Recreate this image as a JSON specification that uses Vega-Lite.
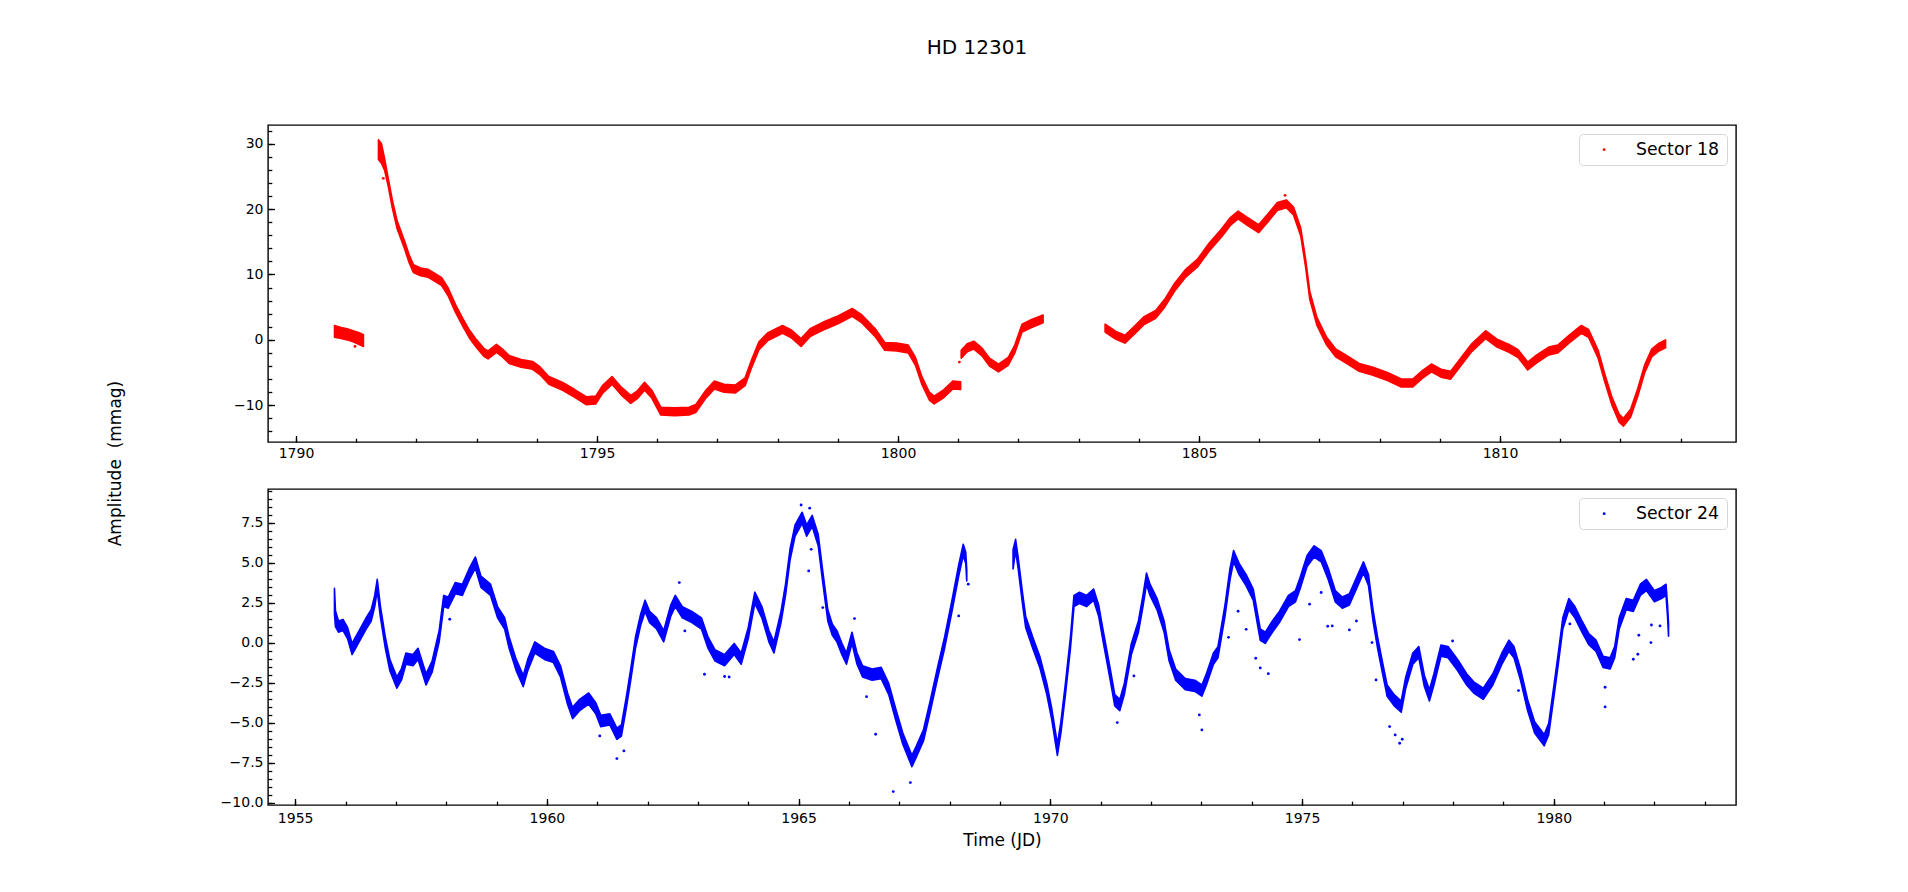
{
  "$schema": "https://vega.github.io/schema/vega-lite/v6.json",
  "autosize": {"type": "none"},
  "padding": {"left": 268, "top": 125, "right": 1640, "bottom": 767},
  "background": "#ffffff",
  "spacing": 47,
  "bounds": "flush",
  "datasets": {
    "s18band": [
      {"s":1,"t":1790.64,"lo":0.4,"hi":2.2},{"s":1,"t":1790.75,"lo":0.2,"hi":1.9},{"s":1,"t":1790.85,"lo":0.0,"hi":1.7},{"s":1,"t":1790.95,"lo":-0.3,"hi":1.4},{"s":1,"t":1791.05,"lo":-0.7,"hi":1.1},{"s":1,"t":1791.12,"lo":-1.0,"hi":0.8},
      {"s":2,"t":1791.37,"lo":27.6,"hi":30.6},{"s":2,"t":1791.42,"lo":27.0,"hi":30.0},{"s":2,"t":1791.47,"lo":26.0,"hi":27.8},{"s":2,"t":1791.53,"lo":23.6,"hi":24.8},{"s":2,"t":1791.60,"lo":20.2,"hi":21.4},{"s":2,"t":1791.68,"lo":17.0,"hi":18.2},{"s":2,"t":1791.80,"lo":14.0,"hi":15.2},{"s":2,"t":1791.88,"lo":11.8,"hi":13.0},{"s":2,"t":1791.95,"lo":10.3,"hi":11.5},{"s":2,"t":1792.07,"lo":9.8,"hi":11.0},{"s":2,"t":1792.19,"lo":9.6,"hi":10.8},{"s":2,"t":1792.30,"lo":9.0,"hi":10.2},{"s":2,"t":1792.42,"lo":8.3,"hi":9.5},{"s":2,"t":1792.53,"lo":6.7,"hi":7.9},{"s":2,"t":1792.65,"lo":4.2,"hi":5.4},{"s":2,"t":1792.77,"lo":2.1,"hi":3.3},{"s":2,"t":1792.88,"lo":0.3,"hi":1.5},{"s":2,"t":1793.00,"lo":-1.2,"hi":0.0},{"s":2,"t":1793.12,"lo":-2.5,"hi":-1.3},{"s":2,"t":1793.19,"lo":-2.9,"hi":-1.7},{"s":2,"t":1793.33,"lo":-1.9,"hi":-0.7},{"s":2,"t":1793.43,"lo":-2.6,"hi":-1.4},{"s":2,"t":1793.54,"lo":-3.6,"hi":-2.4},{"s":2,"t":1793.74,"lo":-4.2,"hi":-3.0},{"s":2,"t":1793.93,"lo":-4.5,"hi":-3.3},{"s":2,"t":1794.05,"lo":-5.3,"hi":-4.1},{"s":2,"t":1794.20,"lo":-6.8,"hi":-5.6},{"s":2,"t":1794.43,"lo":-7.7,"hi":-6.5},{"s":2,"t":1794.63,"lo":-8.8,"hi":-7.6},{"s":2,"t":1794.82,"lo":-9.9,"hi":-8.7},{"s":2,"t":1794.98,"lo":-9.8,"hi":-8.6},{"s":2,"t":1795.09,"lo":-8.2,"hi":-7.0},{"s":2,"t":1795.25,"lo":-6.8,"hi":-5.6},{"s":2,"t":1795.40,"lo":-8.4,"hi":-7.2},{"s":2,"t":1795.56,"lo":-9.7,"hi":-8.5},{"s":2,"t":1795.67,"lo":-9.0,"hi":-7.8},{"s":2,"t":1795.79,"lo":-7.7,"hi":-6.5},{"s":2,"t":1795.91,"lo":-8.9,"hi":-7.7},{"s":2,"t":1796.06,"lo":-11.5,"hi":-10.3},{"s":2,"t":1796.29,"lo":-11.6,"hi":-10.4},{"s":2,"t":1796.53,"lo":-11.5,"hi":-10.3},{"s":2,"t":1796.64,"lo":-11.1,"hi":-9.9},{"s":2,"t":1796.80,"lo":-9.0,"hi":-7.8},{"s":2,"t":1796.95,"lo":-7.5,"hi":-6.3},{"s":2,"t":1797.11,"lo":-8.0,"hi":-6.8},{"s":2,"t":1797.30,"lo":-8.1,"hi":-6.9},{"s":2,"t":1797.46,"lo":-7.0,"hi":-5.8},{"s":2,"t":1797.57,"lo":-4.2,"hi":-3.0},{"s":2,"t":1797.69,"lo":-1.5,"hi":-0.3},{"s":2,"t":1797.84,"lo":-0.1,"hi":1.1},{"s":2,"t":1798.08,"lo":1.0,"hi":2.2},{"s":2,"t":1798.23,"lo":0.3,"hi":1.5},{"s":2,"t":1798.39,"lo":-1.0,"hi":0.2},{"s":2,"t":1798.54,"lo":0.5,"hi":1.7},{"s":2,"t":1798.78,"lo":1.6,"hi":2.8},{"s":2,"t":1799.01,"lo":2.5,"hi":3.7},{"s":2,"t":1799.24,"lo":3.6,"hi":4.8},{"s":2,"t":1799.40,"lo":2.6,"hi":3.8},{"s":2,"t":1799.63,"lo":0.4,"hi":1.6},{"s":2,"t":1799.78,"lo":-1.6,"hi":-0.4},{"s":2,"t":1799.98,"lo":-1.7,"hi":-0.5},{"s":2,"t":1800.17,"lo":-2.0,"hi":-0.8},{"s":2,"t":1800.29,"lo":-3.9,"hi":-2.7},{"s":2,"t":1800.40,"lo":-6.9,"hi":-5.7},{"s":2,"t":1800.52,"lo":-9.2,"hi":-8.0},{"s":2,"t":1800.60,"lo":-9.8,"hi":-8.6},{"s":2,"t":1800.75,"lo":-8.9,"hi":-7.7},{"s":2,"t":1800.91,"lo":-7.5,"hi":-6.3},{"s":2,"t":1801.04,"lo":-7.6,"hi":-6.4},
      {"s":3,"t":1801.05,"lo":-2.8,"hi":-1.6},{"s":3,"t":1801.15,"lo":-1.8,"hi":-0.6},{"s":3,"t":1801.26,"lo":-1.4,"hi":-0.2},{"s":3,"t":1801.40,"lo":-2.5,"hi":-1.3},{"s":3,"t":1801.52,"lo":-4.0,"hi":-2.8},{"s":3,"t":1801.67,"lo":-4.9,"hi":-3.7},{"s":3,"t":1801.83,"lo":-3.9,"hi":-2.7},{"s":3,"t":1801.94,"lo":-2.0,"hi":-0.8},{"s":3,"t":1802.06,"lo":1.2,"hi":2.4},{"s":3,"t":1802.22,"lo":1.9,"hi":3.1},{"s":3,"t":1802.41,"lo":2.6,"hi":3.8},
      {"s":4,"t":1803.44,"lo":1.2,"hi":2.4},{"s":4,"t":1803.62,"lo":0.1,"hi":1.3},{"s":4,"t":1803.77,"lo":-0.5,"hi":0.7},{"s":4,"t":1803.93,"lo":0.9,"hi":2.1},{"s":4,"t":1804.08,"lo":2.3,"hi":3.5},{"s":4,"t":1804.28,"lo":3.3,"hi":4.5},{"s":4,"t":1804.43,"lo":5.0,"hi":6.2},{"s":4,"t":1804.59,"lo":7.4,"hi":8.6},{"s":4,"t":1804.78,"lo":9.6,"hi":10.8},{"s":4,"t":1804.98,"lo":11.2,"hi":12.4},{"s":4,"t":1805.17,"lo":13.6,"hi":14.8},{"s":4,"t":1805.37,"lo":15.7,"hi":16.9},{"s":4,"t":1805.52,"lo":17.5,"hi":18.7},{"s":4,"t":1805.65,"lo":18.5,"hi":19.7},{"s":4,"t":1805.79,"lo":17.6,"hi":18.8},{"s":4,"t":1805.99,"lo":16.4,"hi":17.6},{"s":4,"t":1806.14,"lo":18.0,"hi":19.2},{"s":4,"t":1806.30,"lo":19.8,"hi":21.0},{"s":4,"t":1806.45,"lo":20.2,"hi":21.4},{"s":4,"t":1806.57,"lo":19.1,"hi":20.3},{"s":4,"t":1806.69,"lo":15.9,"hi":17.1},{"s":4,"t":1806.77,"lo":11.2,"hi":12.4},{"s":4,"t":1806.84,"lo":6.2,"hi":7.4},{"s":4,"t":1806.96,"lo":2.2,"hi":3.4},{"s":4,"t":1807.12,"lo":-0.8,"hi":0.4},{"s":4,"t":1807.27,"lo":-2.6,"hi":-1.4},{"s":4,"t":1807.47,"lo":-3.7,"hi":-2.5},{"s":4,"t":1807.66,"lo":-4.8,"hi":-3.6},{"s":4,"t":1807.89,"lo":-5.4,"hi":-4.2},{"s":4,"t":1808.13,"lo":-6.2,"hi":-5.0},{"s":4,"t":1808.36,"lo":-7.2,"hi":-6.0},{"s":4,"t":1808.55,"lo":-7.2,"hi":-6.0},{"s":4,"t":1808.71,"lo":-5.9,"hi":-4.7},{"s":4,"t":1808.86,"lo":-4.9,"hi":-3.7},{"s":4,"t":1809.02,"lo":-5.7,"hi":-4.5},{"s":4,"t":1809.18,"lo":-6.0,"hi":-4.8},{"s":4,"t":1809.33,"lo":-4.2,"hi":-3.0},{"s":4,"t":1809.53,"lo":-1.8,"hi":-0.6},{"s":4,"t":1809.76,"lo":0.2,"hi":1.4},{"s":4,"t":1809.95,"lo":-1.1,"hi":0.1},{"s":4,"t":1810.15,"lo":-1.9,"hi":-0.7},{"s":4,"t":1810.30,"lo":-2.7,"hi":-1.5},{"s":4,"t":1810.46,"lo":-4.6,"hi":-3.4},{"s":4,"t":1810.61,"lo":-3.5,"hi":-2.3},{"s":4,"t":1810.81,"lo":-2.3,"hi":-1.1},{"s":4,"t":1810.96,"lo":-2.0,"hi":-0.8},{"s":4,"t":1811.16,"lo":-0.4,"hi":0.8},{"s":4,"t":1811.35,"lo":1.0,"hi":2.2},{"s":4,"t":1811.47,"lo":0.4,"hi":1.6},{"s":4,"t":1811.63,"lo":-2.8,"hi":-1.6},{"s":4,"t":1811.74,"lo":-6.4,"hi":-5.2},{"s":4,"t":1811.86,"lo":-10.0,"hi":-8.8},{"s":4,"t":1811.98,"lo":-12.6,"hi":-11.4},{"s":4,"t":1812.05,"lo":-13.2,"hi":-12.0},{"s":4,"t":1812.17,"lo":-11.8,"hi":-10.6},{"s":4,"t":1812.29,"lo":-8.6,"hi":-7.4},{"s":4,"t":1812.40,"lo":-5.1,"hi":-3.9},{"s":4,"t":1812.52,"lo":-2.6,"hi":-1.4},{"s":4,"t":1812.64,"lo":-1.7,"hi":-0.5},{"s":4,"t":1812.75,"lo":-1.2,"hi":0.0}
    ],
    "s18pts": [
      {"sector":"Sector 18","t":1791.45,"m":24.7},{"sector":"Sector 18","t":1791.40,"m":28.2},{"sector":"Sector 18","t":1801.02,"m":-3.4},{"sector":"Sector 18","t":1806.43,"m":22.1},{"sector":"Sector 18","t":1790.98,"m":-1.0}
    ],
    "s24band": [
      {"s":1,"t":1955.78,"lo":1.8,"hi":3.4},{"s":1,"t":1955.80,"lo":1.0,"hi":2.0},{"s":1,"t":1955.86,"lo":0.65,"hi":1.35},{"s":1,"t":1955.95,"lo":0.75,"hi":1.45},{"s":1,"t":1956.04,"lo":0.25,"hi":0.95},{"s":1,"t":1956.13,"lo":-0.75,"hi":-0.05},{"s":1,"t":1956.27,"lo":0.05,"hi":0.75},{"s":1,"t":1956.41,"lo":0.85,"hi":1.55},{"s":1,"t":1956.51,"lo":1.35,"hi":2.05},{"s":1,"t":1956.58,"lo":2.25,"hi":2.95},{"s":1,"t":1956.63,"lo":3.25,"hi":3.95},{"s":1,"t":1956.69,"lo":1.65,"hi":2.35},{"s":1,"t":1956.79,"lo":-0.35,"hi":0.35},{"s":1,"t":1956.88,"lo":-1.75,"hi":-1.05},{"s":1,"t":1957.02,"lo":-2.85,"hi":-2.15},{"s":1,"t":1957.11,"lo":-2.35,"hi":-1.65},{"s":1,"t":1957.20,"lo":-1.35,"hi":-0.65},{"s":1,"t":1957.34,"lo":-1.45,"hi":-0.75},{"s":1,"t":1957.44,"lo":-1.05,"hi":-0.35},{"s":1,"t":1957.60,"lo":-2.65,"hi":-1.95},{"s":1,"t":1957.72,"lo":-1.85,"hi":-1.15},{"s":1,"t":1957.86,"lo":0.05,"hi":0.75},{"s":1,"t":1957.95,"lo":2.25,"hi":2.95},{"s":1,"t":1958.04,"lo":2.15,"hi":2.85},{"s":1,"t":1958.18,"lo":3.05,"hi":3.75},{"s":1,"t":1958.32,"lo":2.95,"hi":3.65},{"s":1,"t":1958.46,"lo":3.95,"hi":4.65},{"s":1,"t":1958.58,"lo":4.65,"hi":5.35},{"s":1,"t":1958.69,"lo":3.45,"hi":4.15},{"s":1,"t":1958.88,"lo":2.95,"hi":3.65},{"s":1,"t":1959.02,"lo":1.55,"hi":2.25},{"s":1,"t":1959.16,"lo":0.85,"hi":1.55},{"s":1,"t":1959.25,"lo":-0.35,"hi":0.35},{"s":1,"t":1959.39,"lo":-1.75,"hi":-1.05},{"s":1,"t":1959.53,"lo":-2.75,"hi":-2.05},{"s":1,"t":1959.62,"lo":-1.75,"hi":-1.05},{"s":1,"t":1959.76,"lo":-0.65,"hi":0.05},{"s":1,"t":1959.95,"lo":-1.05,"hi":-0.35},{"s":1,"t":1960.13,"lo":-1.25,"hi":-0.55},{"s":1,"t":1960.27,"lo":-2.15,"hi":-1.45},{"s":1,"t":1960.41,"lo":-3.85,"hi":-3.15},{"s":1,"t":1960.51,"lo":-4.75,"hi":-4.05},{"s":1,"t":1960.65,"lo":-4.25,"hi":-3.55},{"s":1,"t":1960.83,"lo":-3.85,"hi":-3.15},{"s":1,"t":1960.97,"lo":-4.45,"hi":-3.75},{"s":1,"t":1961.07,"lo":-5.25,"hi":-4.55},{"s":1,"t":1961.25,"lo":-5.15,"hi":-4.45},{"s":1,"t":1961.39,"lo":-6.05,"hi":-5.35},{"s":1,"t":1961.48,"lo":-5.85,"hi":-5.15},{"s":1,"t":1961.58,"lo":-4.05,"hi":-3.35},{"s":1,"t":1961.67,"lo":-2.25,"hi":-1.55},{"s":1,"t":1961.76,"lo":-0.35,"hi":0.35},{"s":1,"t":1961.86,"lo":1.05,"hi":1.75},{"s":1,"t":1961.95,"lo":1.95,"hi":2.65},{"s":1,"t":1962.04,"lo":1.25,"hi":1.95},{"s":1,"t":1962.18,"lo":0.85,"hi":1.55},{"s":1,"t":1962.32,"lo":0.05,"hi":0.75},{"s":1,"t":1962.46,"lo":1.65,"hi":2.35},{"s":1,"t":1962.55,"lo":2.25,"hi":2.95},{"s":1,"t":1962.69,"lo":1.55,"hi":2.25},{"s":1,"t":1962.88,"lo":1.25,"hi":1.95},{"s":1,"t":1963.07,"lo":0.85,"hi":1.55},{"s":1,"t":1963.20,"lo":-0.35,"hi":0.35},{"s":1,"t":1963.34,"lo":-1.15,"hi":-0.45},{"s":1,"t":1963.53,"lo":-1.45,"hi":-0.75},{"s":1,"t":1963.72,"lo":-0.75,"hi":-0.05},{"s":1,"t":1963.86,"lo":-1.35,"hi":-0.65},{"s":1,"t":1964.00,"lo":0.25,"hi":0.95},{"s":1,"t":1964.13,"lo":2.45,"hi":3.15},{"s":1,"t":1964.27,"lo":1.55,"hi":2.25},{"s":1,"t":1964.41,"lo":0.05,"hi":0.75},{"s":1,"t":1964.51,"lo":-0.65,"hi":0.05},{"s":1,"t":1964.65,"lo":1.25,"hi":1.95},{"s":1,"t":1964.74,"lo":2.95,"hi":3.65},{"s":1,"t":1964.83,"lo":5.15,"hi":5.85},{"s":1,"t":1964.93,"lo":6.65,"hi":7.35},{"s":1,"t":1965.07,"lo":7.45,"hi":8.15},{"s":1,"t":1965.16,"lo":6.65,"hi":7.35},{"s":1,"t":1965.27,"lo":7.25,"hi":7.95},{"s":1,"t":1965.39,"lo":6.05,"hi":6.75},{"s":1,"t":1965.48,"lo":3.75,"hi":4.45},{"s":1,"t":1965.58,"lo":1.35,"hi":2.05},{"s":1,"t":1965.67,"lo":0.45,"hi":1.15},{"s":1,"t":1965.76,"lo":0.05,"hi":0.75},{"s":1,"t":1965.86,"lo":-0.75,"hi":-0.05},{"s":1,"t":1965.95,"lo":-1.35,"hi":-0.65},{"s":1,"t":1966.06,"lo":-0.05,"hi":0.65},{"s":1,"t":1966.16,"lo":-1.35,"hi":-0.65},{"s":1,"t":1966.27,"lo":-2.15,"hi":-1.45},{"s":1,"t":1966.46,"lo":-2.35,"hi":-1.65},{"s":1,"t":1966.64,"lo":-2.25,"hi":-1.55},{"s":1,"t":1966.79,"lo":-3.25,"hi":-2.55},{"s":1,"t":1966.93,"lo":-4.85,"hi":-4.15},{"s":1,"t":1967.07,"lo":-6.35,"hi":-5.65},{"s":1,"t":1967.25,"lo":-7.75,"hi":-7.05},{"s":1,"t":1967.34,"lo":-7.15,"hi":-6.45},{"s":1,"t":1967.48,"lo":-6.15,"hi":-5.45},{"s":1,"t":1967.62,"lo":-4.25,"hi":-3.55},{"s":1,"t":1967.76,"lo":-2.25,"hi":-1.55},{"s":1,"t":1967.90,"lo":-0.35,"hi":0.35},{"s":1,"t":1968.04,"lo":1.85,"hi":2.55},{"s":1,"t":1968.18,"lo":4.15,"hi":4.85},{"s":1,"t":1968.27,"lo":5.45,"hi":6.15},{"s":1,"t":1968.32,"lo":4.95,"hi":5.65},{"s":1,"t":1968.34,"lo":3.85,"hi":4.55},
      {"s":2,"t":1969.26,"lo":4.6,"hi":5.8},{"s":2,"t":1969.31,"lo":5.75,"hi":6.45},{"s":2,"t":1969.36,"lo":4.65,"hi":5.35},{"s":2,"t":1969.45,"lo":2.35,"hi":3.05},{"s":2,"t":1969.51,"lo":0.95,"hi":1.65},{"s":2,"t":1969.65,"lo":-0.35,"hi":0.35},{"s":2,"t":1969.79,"lo":-1.55,"hi":-0.85},{"s":2,"t":1969.93,"lo":-3.25,"hi":-2.55},{"s":2,"t":1970.03,"lo":-4.85,"hi":-4.15},{"s":2,"t":1970.14,"lo":-7.05,"hi":-6.35},{"s":2,"t":1970.21,"lo":-5.65,"hi":-4.95},{"s":2,"t":1970.30,"lo":-3.25,"hi":-2.55},{"s":2,"t":1970.40,"lo":-0.35,"hi":0.35},{"s":2,"t":1970.47,"lo":2.25,"hi":2.95},{"s":2,"t":1970.58,"lo":2.45,"hi":3.15},{"s":2,"t":1970.72,"lo":2.25,"hi":2.95},{"s":2,"t":1970.86,"lo":2.65,"hi":3.35},{"s":2,"t":1970.96,"lo":1.65,"hi":2.35},{"s":2,"t":1971.05,"lo":0.05,"hi":0.75},{"s":2,"t":1971.19,"lo":-2.35,"hi":-1.65},{"s":2,"t":1971.28,"lo":-3.95,"hi":-3.25},{"s":2,"t":1971.38,"lo":-4.25,"hi":-3.55},{"s":2,"t":1971.47,"lo":-3.25,"hi":-2.55},{"s":2,"t":1971.61,"lo":-0.75,"hi":-0.05},{"s":2,"t":1971.75,"lo":0.65,"hi":1.35},{"s":2,"t":1971.84,"lo":2.25,"hi":2.95},{"s":2,"t":1971.91,"lo":3.65,"hi":4.35},{"s":2,"t":1971.98,"lo":2.95,"hi":3.65},{"s":2,"t":1972.12,"lo":2.05,"hi":2.75},{"s":2,"t":1972.26,"lo":0.65,"hi":1.35},{"s":2,"t":1972.36,"lo":-1.15,"hi":-0.45},{"s":2,"t":1972.49,"lo":-2.35,"hi":-1.65},{"s":2,"t":1972.68,"lo":-2.95,"hi":-2.25},{"s":2,"t":1972.87,"lo":-3.05,"hi":-2.35},{"s":2,"t":1973.01,"lo":-3.35,"hi":-2.65},{"s":2,"t":1973.10,"lo":-2.65,"hi":-1.95},{"s":2,"t":1973.24,"lo":-1.35,"hi":-0.65},{"s":2,"t":1973.33,"lo":-0.95,"hi":-0.25},{"s":2,"t":1973.47,"lo":1.65,"hi":2.35},{"s":2,"t":1973.57,"lo":3.95,"hi":4.65},{"s":2,"t":1973.64,"lo":5.05,"hi":5.75},{"s":2,"t":1973.75,"lo":4.25,"hi":4.95},{"s":2,"t":1973.89,"lo":3.55,"hi":4.25},{"s":2,"t":1974.03,"lo":2.65,"hi":3.35},{"s":2,"t":1974.17,"lo":0.15,"hi":0.85},{"s":2,"t":1974.27,"lo":-0.05,"hi":0.65},{"s":2,"t":1974.41,"lo":0.65,"hi":1.35},{"s":2,"t":1974.55,"lo":1.25,"hi":1.95},{"s":2,"t":1974.73,"lo":2.25,"hi":2.95},{"s":2,"t":1974.87,"lo":2.55,"hi":3.25},{"s":2,"t":1974.96,"lo":3.35,"hi":4.05},{"s":2,"t":1975.10,"lo":4.75,"hi":5.45},{"s":2,"t":1975.24,"lo":5.35,"hi":6.05},{"s":2,"t":1975.38,"lo":5.05,"hi":5.75},{"s":2,"t":1975.52,"lo":3.95,"hi":4.65},{"s":2,"t":1975.66,"lo":2.55,"hi":3.25},{"s":2,"t":1975.80,"lo":2.15,"hi":2.85},{"s":2,"t":1975.94,"lo":2.35,"hi":3.05},{"s":2,"t":1976.08,"lo":3.35,"hi":4.05},{"s":2,"t":1976.22,"lo":4.35,"hi":5.05},{"s":2,"t":1976.32,"lo":3.55,"hi":4.25},{"s":2,"t":1976.41,"lo":1.35,"hi":2.05},{"s":2,"t":1976.50,"lo":-0.35,"hi":0.35},{"s":2,"t":1976.60,"lo":-1.95,"hi":-1.25},{"s":2,"t":1976.69,"lo":-3.35,"hi":-2.65},{"s":2,"t":1976.83,"lo":-3.95,"hi":-3.25},{"s":2,"t":1976.97,"lo":-4.35,"hi":-3.65},{"s":2,"t":1977.06,"lo":-2.85,"hi":-2.15},{"s":2,"t":1977.20,"lo":-1.35,"hi":-0.65},{"s":2,"t":1977.32,"lo":-0.95,"hi":-0.25},{"s":2,"t":1977.43,"lo":-2.75,"hi":-2.05},{"s":2,"t":1977.53,"lo":-3.65,"hi":-2.95},{"s":2,"t":1977.62,"lo":-2.65,"hi":-1.95},{"s":2,"t":1977.76,"lo":-0.85,"hi":-0.15},{"s":2,"t":1977.90,"lo":-0.95,"hi":-0.25},{"s":2,"t":1978.09,"lo":-1.75,"hi":-1.05},{"s":2,"t":1978.27,"lo":-2.65,"hi":-1.95},{"s":2,"t":1978.41,"lo":-3.15,"hi":-2.45},{"s":2,"t":1978.60,"lo":-3.55,"hi":-2.85},{"s":2,"t":1978.79,"lo":-2.65,"hi":-1.95},{"s":2,"t":1978.97,"lo":-1.35,"hi":-0.65},{"s":2,"t":1979.11,"lo":-0.55,"hi":0.15},{"s":2,"t":1979.21,"lo":-0.95,"hi":-0.25},{"s":2,"t":1979.34,"lo":-2.35,"hi":-1.65},{"s":2,"t":1979.48,"lo":-4.25,"hi":-3.55},{"s":2,"t":1979.62,"lo":-5.65,"hi":-4.95},{"s":2,"t":1979.81,"lo":-6.45,"hi":-5.75},{"s":2,"t":1979.90,"lo":-5.75,"hi":-5.05},{"s":2,"t":1980.00,"lo":-3.45,"hi":-2.75},{"s":2,"t":1980.09,"lo":-1.35,"hi":-0.65},{"s":2,"t":1980.18,"lo":0.85,"hi":1.55},{"s":2,"t":1980.30,"lo":2.05,"hi":2.75},{"s":2,"t":1980.42,"lo":1.55,"hi":2.25},{"s":2,"t":1980.56,"lo":0.65,"hi":1.35},{"s":2,"t":1980.70,"lo":-0.15,"hi":0.55},{"s":2,"t":1980.84,"lo":-0.55,"hi":0.15},{"s":2,"t":1980.98,"lo":-1.55,"hi":-0.85},{"s":2,"t":1981.12,"lo":-1.65,"hi":-0.95},{"s":2,"t":1981.21,"lo":-0.95,"hi":-0.25},{"s":2,"t":1981.30,"lo":0.85,"hi":1.55},{"s":2,"t":1981.44,"lo":2.05,"hi":2.75},{"s":2,"t":1981.58,"lo":1.95,"hi":2.65},{"s":2,"t":1981.72,"lo":2.95,"hi":3.65},{"s":2,"t":1981.84,"lo":3.25,"hi":3.95},{"s":2,"t":1982.00,"lo":2.55,"hi":3.25},{"s":2,"t":1982.14,"lo":2.75,"hi":3.45},{"s":2,"t":1982.23,"lo":2.95,"hi":3.65},{"s":2,"t":1982.26,"lo":1.65,"hi":2.35},{"s":2,"t":1982.28,"lo":0.4,"hi":1.2}
    ],
    "s24pts": [
      {"sector":"Sector 24","t":1961.39,"m":-7.25},{"sector":"Sector 24","t":1961.53,"m":-6.77},{"sector":"Sector 24","t":1961.05,"m":-5.83},{"sector":"Sector 24","t":1966.88,"m":-9.31},{"sector":"Sector 24","t":1967.22,"m":-8.75},{"sector":"Sector 24","t":1966.53,"m":-5.73},{"sector":"Sector 24","t":1966.35,"m":-3.38},{"sector":"Sector 24","t":1965.20,"m":4.48},{"sector":"Sector 24","t":1965.48,"m":2.19},{"sector":"Sector 24","t":1966.11,"m":1.5},{"sector":"Sector 24","t":1962.63,"m":3.75},{"sector":"Sector 24","t":1963.13,"m":-1.98},{"sector":"Sector 24","t":1963.53,"m":-2.12},{"sector":"Sector 24","t":1963.62,"m":-2.15},{"sector":"Sector 24","t":1958.07,"m":1.46},{"sector":"Sector 24","t":1968.18,"m":1.67},{"sector":"Sector 24","t":1968.37,"m":3.65},{"sector":"Sector 24","t":1965.25,"m":5.83},{"sector":"Sector 24","t":1962.74,"m":0.73},{"sector":"Sector 24","t":1965.05,"m":8.6},{"sector":"Sector 24","t":1965.22,"m":8.4},
      {"sector":"Sector 24","t":1973.01,"m":-5.46},{"sector":"Sector 24","t":1972.96,"m":-4.52},{"sector":"Sector 24","t":1971.66,"m":-2.08},{"sector":"Sector 24","t":1971.33,"m":-5.0},{"sector":"Sector 24","t":1974.33,"m":-1.94},{"sector":"Sector 24","t":1974.17,"m":-1.58},{"sector":"Sector 24","t":1974.08,"m":-0.98},{"sector":"Sector 24","t":1973.89,"m":0.83},{"sector":"Sector 24","t":1973.73,"m":1.96},{"sector":"Sector 24","t":1973.54,"m":0.33},{"sector":"Sector 24","t":1974.95,"m":0.19},{"sector":"Sector 24","t":1975.15,"m":2.4},{"sector":"Sector 24","t":1975.38,"m":3.13},{"sector":"Sector 24","t":1975.51,"m":1.02},{"sector":"Sector 24","t":1975.60,"m":1.04},{"sector":"Sector 24","t":1975.94,"m":0.79},{"sector":"Sector 24","t":1976.08,"m":1.35},{"sector":"Sector 24","t":1976.39,"m":0.0},{"sector":"Sector 24","t":1976.47,"m":-2.33},{"sector":"Sector 24","t":1976.74,"m":-5.25},{"sector":"Sector 24","t":1976.85,"m":-5.77},{"sector":"Sector 24","t":1976.94,"m":-6.29},{"sector":"Sector 24","t":1976.99,"m":-6.04},{"sector":"Sector 24","t":1977.99,"m":0.1},{"sector":"Sector 24","t":1979.30,"m":-3.0},{"sector":"Sector 24","t":1981.02,"m":-2.79},{"sector":"Sector 24","t":1981.02,"m":-4.02},{"sector":"Sector 24","t":1981.58,"m":-1.04},{"sector":"Sector 24","t":1981.67,"m":-0.73},{"sector":"Sector 24","t":1981.69,"m":0.46},{"sector":"Sector 24","t":1981.93,"m":0.0},{"sector":"Sector 24","t":1981.94,"m":1.1},{"sector":"Sector 24","t":1982.11,"m":1.04},{"sector":"Sector 24","t":1980.32,"m":1.17}
    ]
  },
  "vconcat": [
    {
      "width": 1468,
      "height": 317,
      "title": {"text": "HD 12301", "frame": "group", "anchor": "middle", "dx": -25, "offset": 51, "baseline": "alphabetic", "fontSize": 20, "fontWeight": "normal", "font": "DejaVu Sans", "color": "#000000"},
      "resolve": {"axis": {"x": "independent", "y": "independent"}},
      "layer": [
        {
          "data": {"name": "s18band"},
          "mark": {"type": "area", "color": "#ff0000", "stroke": "#ff0000", "strokeWidth": 1.6, "strokeJoin": "round", "opacity": 1},
          "encoding": {
            "x": {"field": "t", "type": "quantitative", "scale": {"domain": [1789.535, 1813.92], "nice": false, "zero": false},
                  "axis": {"orient": "bottom", "values": [1790, 1795, 1800, 1805, 1810], "format": "d", "tickSize": -6.5, "labelPadding": 11, "title": null}},
            "y": {"field": "lo", "type": "quantitative", "scale": {"domain": [-15.62, 32.86], "nice": false, "zero": false},
                  "axis": {"orient": "left", "values": [-10, 0, 10, 20, 30], "format": "d", "tickSize": -6.5, "labelPadding": 11.5,
                           "title": "Amplitude \u00a0(mmag)", "titleX": -153, "titleY": 338, "titleAngle": -90, "titleAlign": "center", "titleBaseline": "middle"}},
            "y2": {"field": "hi"},
            "detail": {"field": "s", "type": "nominal"}
          }
        },
        {
          "data": {"name": "s18pts"},
          "mark": {"type": "circle", "size": 8, "opacity": 1},
          "encoding": {
            "x": {"field": "t", "type": "quantitative",
                  "axis": {"orient": "bottom", "values": [1790,1791,1792,1793,1794,1795,1796,1797,1798,1799,1800,1801,1802,1803,1804,1805,1806,1807,1808,1809,1810,1811,1812,1813], "labels": false, "tickSize": -3.8, "title": null}},
            "y": {"field": "m", "type": "quantitative",
                  "axis": {"orient": "left", "values": [-14,-12,-10,-8,-6,-4,-2,0,2,4,6,8,10,12,14,16,18,20,22,24,26,28,30,32], "labels": false, "tickSize": -3.8, "title": null}},
            "color": {"field": "sector", "type": "nominal", "scale": {"domain": ["Sector 18"], "range": ["#ff0000"]}, "legend": {"title": null}}
          }
        }
      ]
    },
    {
      "width": 1468,
      "height": 316,
      "resolve": {"axis": {"x": "independent", "y": "independent"}},
      "layer": [
        {
          "data": {"name": "s24band"},
          "mark": {"type": "area", "color": "#0000ff", "stroke": "#0000ff", "strokeWidth": 1.6, "strokeJoin": "round", "opacity": 1},
          "encoding": {
            "x": {"field": "t", "type": "quantitative", "scale": {"domain": [1954.46, 1983.62], "nice": false, "zero": false},
                  "axis": {"orient": "bottom", "values": [1955, 1960, 1965, 1970, 1975, 1980], "format": "d", "tickSize": -6.5, "labelPadding": 13,
                           "title": "Time (JD)", "titleY": 40, "titleBaseline": "alphabetic", "titleAlign": "center"}},
            "y": {"field": "lo", "type": "quantitative", "scale": {"domain": [-10.15, 9.6], "nice": false, "zero": false},
                  "axis": {"orient": "left", "values": [-10, -7.5, -5, -2.5, 0, 2.5, 5, 7.5], "format": ".1f", "tickSize": -6.5, "labelPadding": 11.5, "title": null}},
            "y2": {"field": "hi"},
            "detail": {"field": "s", "type": "nominal"}
          }
        },
        {
          "data": {"name": "s24pts"},
          "mark": {"type": "circle", "size": 8, "opacity": 1},
          "encoding": {
            "x": {"field": "t", "type": "quantitative",
                  "axis": {"orient": "bottom", "values": [1955,1956,1957,1958,1959,1960,1961,1962,1963,1964,1965,1966,1967,1968,1969,1970,1971,1972,1973,1974,1975,1976,1977,1978,1979,1980,1981,1982,1983], "labels": false, "tickSize": -3.8, "title": null}},
            "y": {"field": "m", "type": "quantitative",
                  "axis": {"orient": "left", "values": [-10,-9.5,-9,-8.5,-8,-7.5,-7,-6.5,-6,-5.5,-5,-4.5,-4,-3.5,-3,-2.5,-2,-1.5,-1,-0.5,0,0.5,1,1.5,2,2.5,3,3.5,4,4.5,5,5.5,6,6.5,7,7.5,8,8.5,9,9.5], "labels": false, "tickSize": -3.8, "title": null}},
            "color": {"field": "sector", "type": "nominal", "scale": {"domain": ["Sector 24"], "range": ["#0000ff"]}, "legend": {"title": null}}
          }
        }
      ]
    }
  ],
  "resolve": {"scale": {"color": "independent"}, "legend": {"color": "independent"}},
  "config": {
    "font": "DejaVu Sans",
    "view": {"stroke": "#000000", "strokeWidth": 1.4},
    "axis": {"domain": false, "grid": false, "labelFont": "DejaVu Sans", "labelFontSize": 14, "labelColor": "#000000", "tickColor": "#000000", "tickWidth": 1.3, "titleFont": "DejaVu Sans", "titleFontSize": 17, "titleFontWeight": "normal", "titleColor": "#000000", "labelFlush": false, "labelOverlap": false},
    "legend": {"orient": "top-right", "offset": 9, "padding": 7, "fillColor": "#ffffff", "strokeColor": "#d6d6d6", "strokeWidth": 1, "cornerRadius": 4, "symbolOffset": 9.5, "labelOffset": 23.2, "labelFont": "DejaVu Sans", "labelFontSize": 17.3, "labelColor": "#000000", "symbolSize": 8, "symbolType": "circle", "symbolStrokeWidth": 0}
  }
}
